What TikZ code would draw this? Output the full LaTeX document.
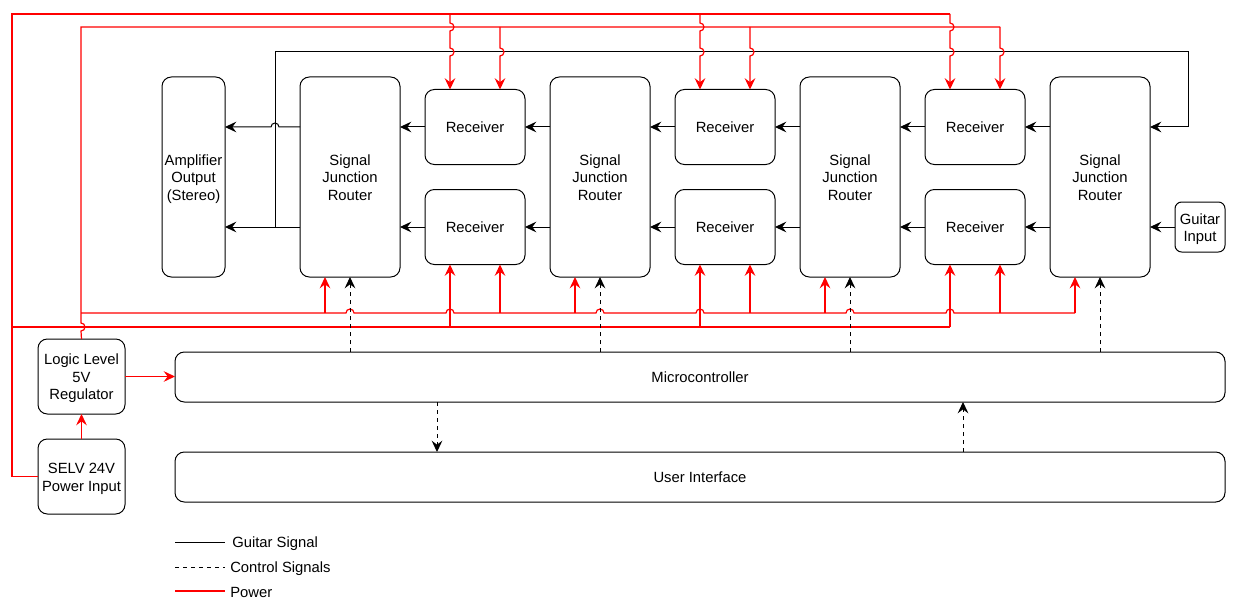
\documentclass[tikz,border=0pt]{standalone}
\usepackage{fontspec}
\setmainfont{Liberation Sans}
\usetikzlibrary{arrows.meta,calc}
\newcommand\fsz{\fontsize{11.1}{13.1}\selectfont}
\newcommand\mlines[1]{\raisebox{-1.8pt}[\height][\depth]{\begin{tabular}{@{}c@{}}#1\end{tabular}}}
\begin{document}
\begin{tikzpicture}[x=0.75pt,y=-0.75pt,
  box/.style={draw, line width=0.75pt, rounded corners=7pt, inner sep=0pt, outer sep=0pt, font=\fsz},
  router/.style={box, minimum width=75pt, minimum height=150pt},
  recv/.style={box, minimum width=75pt, minimum height=56.25pt},
  tip/.style={-{Stealth[length=8.5pt,width=8pt,inset=3pt]}},
  sig/.style={line width=0.75pt, tip},
  pw/.style={draw=red, line width=0.9pt},
  pwa/.style={pw, tip},
  ctl/.style={line width=0.75pt, dash pattern=on 3pt off 3pt, tip},
  lg/.style={font=\fsz, anchor=west, inner sep=0pt}]
\fill[white] (0,0) rectangle (1237,606);
\useasboundingbox (0,0) rectangle (1237,606);

% nodes
\node[box, minimum width=47.25pt, minimum height=150pt] (amp) at (193.5,177) {\mlines{Amplifier\\Output\\(Stereo)}};
\node[router] (r1) at (350,177) {\mlines{Signal\\Junction\\Router}};
\node[router] (r2) at (600,177) {\mlines{Signal\\Junction\\Router}};
\node[router] (r3) at (850,177) {\mlines{Signal\\Junction\\Router}};
\node[router] (r4) at (1100,177) {\mlines{Signal\\Junction\\Router}};
\node[recv] (a1) at (475,127) {Receiver};
\node[recv] (b1) at (475,227) {Receiver};
\node[recv] (a2) at (725,127) {Receiver};
\node[recv] (b2) at (725,227) {Receiver};
\node[recv] (a3) at (975,127) {Receiver};
\node[recv] (b3) at (975,227) {Receiver};
\node[box, rounded corners=5pt, minimum width=37.5pt, minimum height=37.5pt] (gi) at (1200,227) {\mlines{Guitar\\Input}};
\node[box, minimum width=65.25pt, minimum height=56.25pt] (logic) at (81.5,376.5) {\mlines{Logic Level\\5V\\Regulator}};
\node[box, minimum width=65.25pt, minimum height=56.25pt] (selv) at (81.5,476.5) {\mlines{SELV 24V\\Power Input}};
\node[box, minimum width=787.5pt, minimum height=37.5pt] (mc) at (700,377) {Microcontroller};
\node[box, minimum width=787.5pt, minimum height=37.5pt] (ui) at (700,477) {User Interface};

% guitar signal
\draw[sig] (gi.west) -- (gi.west -| r4.east);
\draw[sig] (a3.east -| r4.west) -- (a3.east);
\draw[sig] (b3.east -| r4.west) -- (b3.east);
\draw[sig] (a3.west) -- (a3.west -| r3.east);
\draw[sig] (b3.west) -- (b3.west -| r3.east);
\draw[sig] (a2.east -| r3.west) -- (a2.east);
\draw[sig] (b2.east -| r3.west) -- (b2.east);
\draw[sig] (a2.west) -- (a2.west -| r2.east);
\draw[sig] (b2.west) -- (b2.west -| r2.east);
\draw[sig] (a1.east -| r2.west) -- (a1.east);
\draw[sig] (b1.east -| r2.west) -- (b1.east);
\draw[sig] (a1.west) -- (a1.west -| r1.east);
\draw[sig] (b1.west) -- (b1.west -| r1.east);
\draw[sig] (a1.west -| r1.west) -- (279,127) arc[start angle=0,end angle=180,radius=3pt] -- (a1.west -| amp.east);
\draw[sig] (b1.west -| r1.west) -- (b1.west -| amp.east);
\draw[sig] (275,227) -- (275,52) -- (1188,52) |- (a3.east -| r4.east);

% 24V bus (top)
\draw[pw] (selv.west) -| (12,14) -- (950,14);
\draw[pwa] (450,14) -- (450,23) arc[start angle=90,end angle=-90,radius=3pt] -- (450,48) arc[start angle=90,end angle=-90,radius=3pt] -- ($(a1.north)+(-25,0)$);
\draw[pwa] (700,14) -- (700,23) arc[start angle=90,end angle=-90,radius=3pt] -- (700,48) arc[start angle=90,end angle=-90,radius=3pt] -- ($(a2.north)+(-25,0)$);
\draw[pwa] (950,14) -- (950,23) arc[start angle=90,end angle=-90,radius=3pt] -- (950,48) arc[start angle=90,end angle=-90,radius=3pt] -- ($(a3.north)+(-25,0)$);
% 5V bus (top)
\draw[pw] (logic.north) -- (81,331) arc[start angle=-90,end angle=90,radius=3pt] -- (81,27) -- (1000,27);
\draw[pwa] (500,27) -- (500,48) arc[start angle=90,end angle=-90,radius=3pt] -- ($(a1.north)+(25,0)$);
\draw[pwa] (750,27) -- (750,48) arc[start angle=90,end angle=-90,radius=3pt] -- ($(a2.north)+(25,0)$);
\draw[pwa] (1000,27) -- (1000,48) arc[start angle=90,end angle=-90,radius=3pt] -- ($(a3.north)+(25,0)$);

% 5V bus (bottom)
\draw[pw] (81,313) -- (346,313) arc[start angle=180,end angle=0,radius=3pt]
  -- (446,313) arc[start angle=180,end angle=0,radius=3pt]
  -- (596,313) arc[start angle=180,end angle=0,radius=3pt]
  -- (696,313) arc[start angle=180,end angle=0,radius=3pt]
  -- (846,313) arc[start angle=180,end angle=0,radius=3pt]
  -- (946,313) arc[start angle=180,end angle=0,radius=3pt]
  -- (1075,313);
\draw[pwa] (325,313) -- ($(r1.south)+(-25,0)$);
\draw[pwa] (575,313) -- ($(r2.south)+(-25,0)$);
\draw[pwa] (825,313) -- ($(r3.south)+(-25,0)$);
\draw[pwa] (1075,313) -- ($(r4.south)+(-25,0)$);
\draw[pwa] (500,313) -- ($(b1.south)+(25,0)$);
\draw[pwa] (750,313) -- ($(b2.south)+(25,0)$);
\draw[pwa] (1000,313) -- ($(b3.south)+(25,0)$);
% 24V bus (bottom)
\draw[pw] (12,327) -- (950,327);
\draw[pwa] (450,327) -- ($(b1.south)+(-25,0)$);
\draw[pwa] (700,327) -- ($(b2.south)+(-25,0)$);
\draw[pwa] (950,327) -- ($(b3.south)+(-25,0)$);

% regulator
\draw[pwa] (selv.north) -- (logic.south);
\draw[pwa] (logic.east) -- (logic.east -| mc.west);

% control
\draw[ctl] (r1.south |- mc.north) -- (r1.south);
\draw[ctl] (r2.south |- mc.north) -- (r2.south);
\draw[ctl] (r3.south |- mc.north) -- (r3.south);
\draw[ctl] (r4.south |- mc.north) -- (r4.south);
\draw[ctl] ($(mc.south)+(-263,0)$) -- ($(ui.north)+(-263,0)$);
\draw[ctl] ($(ui.north)+(263,0)$) -- ($(mc.south)+(263,0)$);

% legend
\node[lg] (l1) at (232,543.5) {Guitar Signal};
\node[lg] (l2) at (230,568.5) {Control Signals};
\node[lg] (l3) at (230,592.5) {Power};
\draw[line width=0.75pt] (175,542) -- (225,542);
\draw[line width=0.75pt, dash pattern=on 3pt off 3pt] (175,567) -- (225,567);
\draw[pw] (175,591) -- (225,591);
\end{tikzpicture}
\end{document}
